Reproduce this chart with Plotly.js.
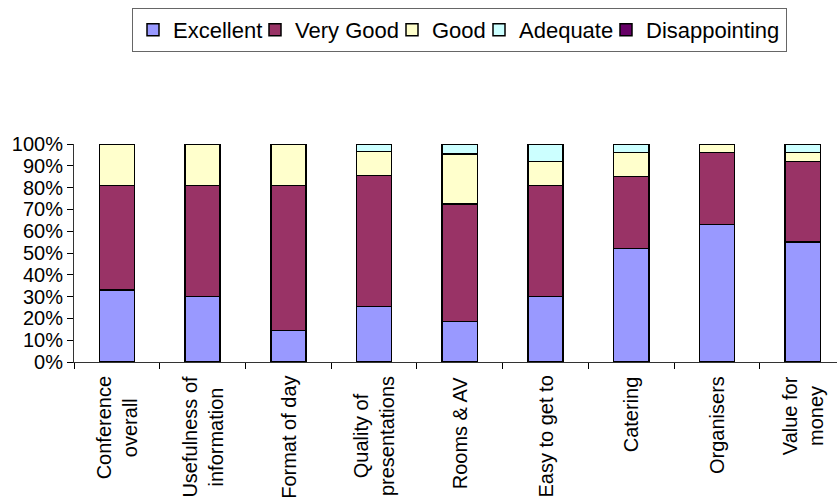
<!DOCTYPE html>
<html>
<head>
<meta charset="utf-8">
<script src="https://cdn.plot.ly/plotly-3.0.1.min.js"></script>
<style>html,body{margin:0;padding:0;background:#fff;}#chart{width:837px;height:501px;}</style>
</head>
<body>
<div id="chart"></div>
<script>
const categories = ["Conference<br>overall", "Usefulness of<br>information", "Format of day", "Quality of<br>presentations", "Rooms & AV", "Easy to get to", "Catering", "Organisers", "Value for<br>money"];
const excellent = [33, 30, 14.5, 25.5, 18.5, 30, 52, 63, 55];
const veryGood = [48, 51, 66.5, 60, 54, 51, 33, 33, 37];
const good = [19, 19, 19, 11, 23, 11, 11, 4, 4];
const adequate = [0, 0, 0, 3.5, 4.5, 8, 4, 0, 4];
const disappointing = [0, 0, 0, 0, 0, 0, 0, 0, 0];
const seriesNames = ["Excellent", "Very Good", "Good", "Adequate", "Disappointing"];
const seriesColors = ["#9999FF", "#993366", "#FFFFCC", "#CCFFFF", "#660066"];
const seriesValues = [excellent, veryGood, good, adequate, disappointing];
const yTickVals = [0, 10, 20, 30, 40, 50, 60, 70, 80, 90, 100];
const yTickText = ["0%", "10%", "20%", "30%", "40%", "50%", "60%", "70%", "80%", "90%", "100%"];

const FONT = "Liberation Sans, Arial, sans-serif";
const LEGEND_SIZE = 22;
const cv = document.createElement("canvas").getContext("2d");
cv.font = LEGEND_SIZE + "px 'Liberation Sans', Arial, sans-serif";

const traces = seriesNames.map((n, i) => ({
  type: "bar",
  name: n,
  x: categories,
  y: seriesValues[i],
  marker: {color: seriesColors[i], line: {color: "#000", width: 1.5}},
  width: 0.41,
  legendwidth: Math.round(cv.measureText(n).width) + (i === seriesNames.length - 1 ? 2 : -12),
  hoverinfo: "skip"
}));

const labelAnnotations = categories.map(c => ({
  x: c, xref: "x", y: 0, yref: "paper",
  text: c, showarrow: false, textangle: -90,
  xanchor: "center", yanchor: "top", yshift: -12, align: "center",
  font: {family: FONT, size: 20, color: "#000"}
}));

const layout = {
  width: 837, height: 501,
  barmode: "stack",
  margin: {l: 74, r: 0, t: 144, b: 139, pad: 0},
  paper_bgcolor: "#fff", plot_bgcolor: "#fff",
  font: {family: FONT, size: 20, color: "#000"},
  showlegend: true,
  legend: {
    orientation: "h", xref: "container", yref: "container",
    x: 787/837, xanchor: "right", y: 1 - 8/501, yanchor: "top",
    bordercolor: "#666", borderwidth: 1, bgcolor: "#fff",
    font: {size: LEGEND_SIZE}, traceorder: "normal", itemwidth: 30
  },
  annotations: labelAnnotations,
  xaxis: {
    type: "category", range: [-0.5, 8.4],
    showticklabels: false, tickson: "boundaries", ticks: "outside", ticklen: 6, tickcolor: "#000",
    showline: true, linecolor: "#333", linewidth: 1, showgrid: false, zeroline: false,
    fixedrange: true
  },
  yaxis: {
    range: [0, 100], tickvals: yTickVals, ticktext: yTickText,
    ticks: "outside", ticklen: 6, tickcolor: "#000",
    showline: true, linecolor: "#333", linewidth: 1, showgrid: false, zeroline: false,
    tickfont: {size: 20}, fixedrange: true
  }
};

Plotly.newPlot("chart", traces, layout, {displayModeBar: false, staticPlot: true});
</script>
</body>
</html>
